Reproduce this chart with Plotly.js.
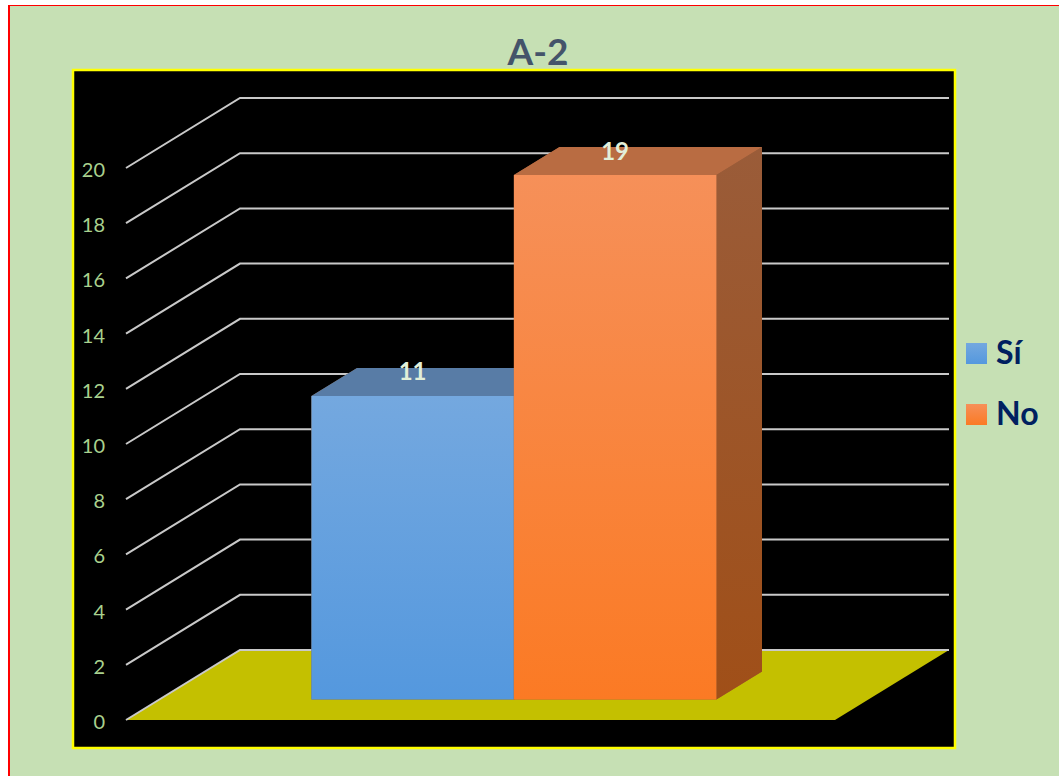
<!DOCTYPE html>
<html>
<head>
<meta charset="utf-8">
<script src="https://cdn.plot.ly/plotly-3.0.1.min.js"></script>
<style>
  html, body { margin: 0; padding: 0; background: #fff; overflow: hidden; }
  #frame { position: absolute; left: 8px; top: 5px; width: 1051px; height: 771px;
           box-sizing: border-box; border-left: 2px solid #f00; border-top: 1px solid #f00; }
  #chart { width: 1049px; height: 770px; }
</style>
</head>
<body>
<div id="frame"><div id="chart"></div></div>
<script>
const chartTitle = 'A-2';
const categories = ['Sí', 'No'];
const values = [11, 19];
const tickValues = [0, 2, 4, 6, 8, 10, 12, 14, 16, 18, 20];

const frontFaceColors = [['#5498DE', '#74A8DF'], ['#FB7A24', '#F69059']];
const sideFaceColors = [['#8C5A2E', '#8C5A2E'], ['#A04F18', '#9A5C39']];
const topFaceColors = ['#587CA6', '#B96C42'];
const swatchColors = [['#74A8DF', '#5498DE'], ['#F69059', '#FB7A24']];

// Figure size and the pixel box of the plot on the page.
const W = 1049, H = 770, OX = 10, OY = 6;
const box = { l: 73, r: 955, t: 70, b: 748 };

// Oblique projection: depth 0 is the front edge of the floor, depth 1 the back wall.
// x runs 0..1 along the floor, y is in value units.
const pxPerX = 709, pxPerY = 27.6;
const shiftX = 114 / pxPerX, shiftY = 70 / pxPerY;
const px = (x, depth) => x + depth * shiftX;
const py = (y, depth) => y + depth * shiftY;

const barWidth = 202.5 / pxPerX;
const barsStart = 152 / pxPerX;
const depthFront = 20.5 / 70, depthBack = 48.5 / 70;

const traces = [];
const base = { type: 'scatter', hoverinfo: 'skip', showlegend: false };

function face(points, colors) {
  const t = Object.assign({}, base, {
    x: points.map(p => p[0]), y: points.map(p => p[1]),
    mode: 'none', fill: 'toself'
  });
  if (Array.isArray(colors)) {
    t.fillgradient = { type: 'vertical', colorscale: [[0, colors[0]], [1, colors[1]]] };
  } else {
    t.fillcolor = colors;
  }
  return t;
}

// Floor
traces.push(face([[px(0, 0), py(0, 0)], [px(0, 1), py(0, 1)], [px(1, 1), py(0, 1)], [px(1, 0), py(0, 0)]], '#C4C000'));

// Side and back wall gridlines, one polyline per tick
const gx = [], gy = [];
tickValues.forEach(v => {
  gx.push(px(0, 0), px(0, 1), px(1, 1), null);
  gy.push(py(v, 0), py(v, 1), py(v, 1), null);
});
traces.push(Object.assign({}, base, {
  x: gx, y: gy, mode: 'lines', line: { color: '#C9C9C9', width: 2 }
}));

// Bars, drawn left to right so each front face covers its neighbour's top.
// A solid silhouette goes first so the gridlines cannot show through the face seams.
values.forEach((v, i) => {
  const x0 = px(barsStart + i * barWidth, depthFront), x1 = x0 + barWidth;
  const bottom = py(0, depthFront), top = bottom + v;
  const dx = (depthBack - depthFront) * shiftX, dy = (depthBack - depthFront) * shiftY;
  traces.push(face([[x0, bottom], [x1, bottom], [x1 + dx, bottom + dy], [x1 + dx, top + dy], [x0 + dx, top + dy], [x0, top]], sideFaceColors[i][1]));
  traces.push(face([[x0, top], [x0 + dx, top + dy], [x1 + dx, top + dy], [x1, top]], topFaceColors[i]));
  traces.push(face([[x1, bottom], [x1 + dx, bottom + dy], [x1 + dx, top + dy], [x1, top]], sideFaceColors[i]));
  traces.push(face([[x0, bottom], [x1, bottom], [x1, top], [x0, top]], frontFaceColors[i]));
});

// Value labels sit on the top faces of the bars
traces.push(Object.assign({}, base, {
  x: values.map((v, i) => px(barsStart + (i + 0.5) * barWidth, depthFront)),
  y: values.map(v => py(0, depthFront) + v + 21.5 / pxPerY),
  text: values.map(String),
  mode: 'text', textposition: 'middle center',
  textfont: { family: 'Lato, sans-serif', size: 24, color: '#E2EFD9', weight: 700 }
}));

// Key on the right: gradient squares and their names
const keyY = [0.75, 0.25];
const keyTextLift = 2 / 122;
traces.push(Object.assign({}, base, {
  xaxis: 'x2', yaxis: 'y2', x: categories.map(() => 21.5 / 104), y: keyY, mode: 'markers',
  marker: {
    symbol: 'square', size: 21,
    color: swatchColors.map(c => c[0]),
    gradient: { type: 'vertical', color: swatchColors.map(c => c[1]) },
    line: { width: 0 }
  }
}));
traces.push(Object.assign({}, base, {
  xaxis: 'x2', yaxis: 'y2', x: categories.map(() => 41 / 104), y: keyY.map(k => k - keyTextLift), mode: 'text',
  text: categories, textposition: 'middle right', cliponaxis: false,
  textfont: { family: 'Lato, sans-serif', size: 32, color: '#002060', weight: 700 }
}));

const domX = (a, b) => [(a - OX) / W, (b - OX) / W];
const domY = (t, b) => [1 - (b - OY) / H, 1 - (t - OY) / H];
const plotX = domX(box.l, box.r), plotY = domY(box.t, box.b);

const layout = {
  width: W, height: H,
  margin: { l: 0, r: 0, t: 0, b: 0, pad: 0 },
  paper_bgcolor: '#C6E0B4',
  plot_bgcolor: 'rgba(0,0,0,0)',
  showlegend: false,
  font: { family: 'Lato, sans-serif' },
  title: {
    text: chartTitle, x: (538 - OX) / W, xanchor: 'center',
    y: 1 - (52 - OY) / H, yanchor: 'middle',
    font: { family: 'Lato, sans-serif', size: 37, color: '#44546A', weight: 700 }
  },
  xaxis: {
    domain: plotX, visible: false, fixedrange: true,
    range: [(box.l - 126) / pxPerX, (box.r - 126) / pxPerX]
  },
  yaxis: {
    domain: plotY, fixedrange: true,
    range: [(720 - box.b) / pxPerY, (720 - box.t) / pxPerY],
    anchor: 'free', position: (105 - OX) / W, side: 'left',
    tickmode: 'array', tickvals: tickValues, ticktext: tickValues.map(String),
    ticks: '', showgrid: false, zeroline: false, showline: false,
    ticklabelshift: 2,
    tickfont: { family: 'Lato, sans-serif', size: 20, color: '#A9D18E' }
  },
  xaxis2: { domain: domX(box.r, 1059), range: [0, 1], visible: false, anchor: 'y2', fixedrange: true },
  yaxis2: { domain: domY(323, 445), range: [0, 1], visible: false, anchor: 'x2', fixedrange: true },
  shapes: [{
    type: 'rect', xref: 'paper', yref: 'paper',
    x0: plotX[0], x1: plotX[1], y0: plotY[0], y1: plotY[1],
    line: { color: '#FFFF00', width: 2.5 }, fillcolor: '#000', layer: 'below'
  }]
};

Plotly.newPlot('chart', traces, layout, { displayModeBar: false, staticPlot: true });
</script>
</body>
</html>
